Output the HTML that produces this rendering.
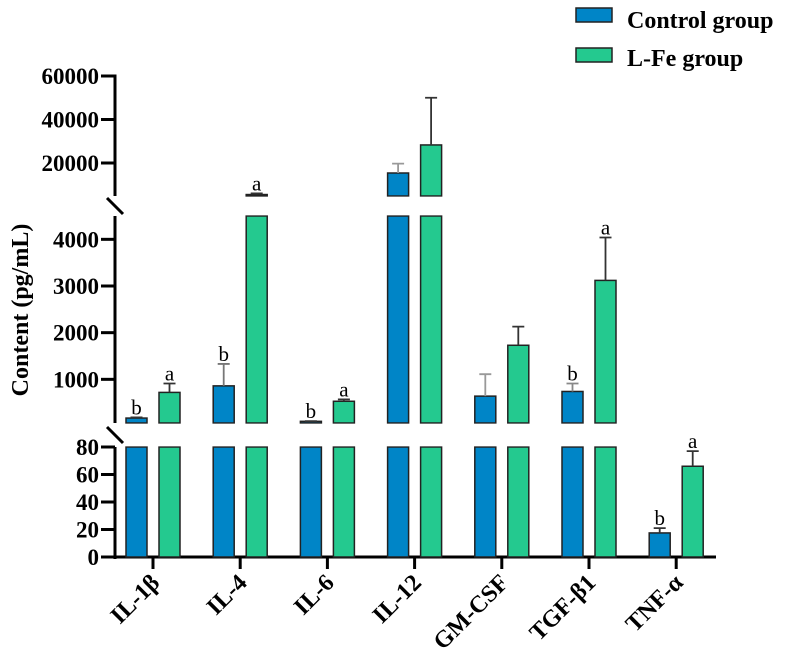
<!DOCTYPE html>
<html><head><meta charset="utf-8"><style>
body{margin:0;background:#fff}
svg text{font-family:"Liberation Serif","Times New Roman","Nimbus Roman","DejaVu Serif",serif}
</style></head><body>
<svg id="chart" width="792" height="664" viewBox="0 0 792 664" xmlns="http://www.w3.org/2000/svg">
<g id="legend">
  <rect x="576" y="8" width="36" height="14" fill="#0085c7" stroke="#222" stroke-width="1.5"/>
  <text x="627" y="28" font-size="24" font-weight="bold">Control group</text>
  <rect x="576" y="48" width="36" height="14" fill="#24c98f" stroke="#222" stroke-width="1.5"/>
  <text x="627" y="66" font-size="24" font-weight="bold">L-Fe group</text>
</g>
<text transform="translate(28,310) rotate(-90)" text-anchor="middle" font-size="24" font-weight="bold">Content (pg/mL)</text>
<g id="axes"></g>
<g id="bars"></g>
</svg>
<script>
const categories=["IL-1β","IL-4","IL-6","IL-12","GM-CSF","TGF-β1","TNF-α"];
const controlValues=[170,860,100,15400,640,740,17.5];
const controlErrors=[15,470,5,4300,470,170,3.5];
const lfeValues=[720,5500,530,28300,1730,3120,66];
const lfeErrors=[190,500,40,21700,400,920,11];
const controlLetters=["b","b","b","","","b","b"];
const lfeLetters=["a","a","a","","","a","a"];
const lowTicks=[0,20,40,60,80];
const midTicks=[1000,2000,3000,4000];
const highTicks=[20000,40000,60000];

const NS="http://www.w3.org/2000/svg";
const axes=document.getElementById('axes');
const barsG=document.getElementById('bars');
function mk(tag,attrs,parent){const e=document.createElementNS(NS,tag);for(const k in attrs)e.setAttribute(k,attrs[k]);parent.appendChild(e);return e;}
function yLow(v){return 557-(v/80)*110;}
function yMid(v){return 426-(v/4500)*210;}
function yHigh(v){return 163-(v-20000)/20000*43.5;}
const AX=115, X0=153, STEP=87.2, OFF=16.5, BW=21;
function xBand(i){return X0+i*STEP;}

let l;
l=mk('line',{x1:AX,y1:559,x2:AX,y2:447,stroke:'#000','stroke-width':3},axes);

l=mk('line',{x1:AX,y1:423,x2:AX,y2:216,stroke:'#000','stroke-width':3},axes);

l=mk('line',{x1:AX,y1:196,x2:AX,y2:74.5,stroke:'#000','stroke-width':3},axes);

[206,435].forEach(yc=>{const b=mk('line',{x1:AX-8,y1:yc-8,x2:AX+8,y2:yc+8,stroke:'#000','stroke-width':3},axes);
});
l=mk('line',{x1:AX-1.5,y1:557,x2:716,y2:557,stroke:'#000','stroke-width':3},axes);


function ytick(y,label){
 const t=mk('line',{x1:AX-14,y1:y,x2:AX,y2:y,stroke:'#000','stroke-width':3},axes);
 
 const tx=mk('text',{x:AX-16,y:y+8,'text-anchor':'end','font-size':23,'font-weight':'bold'},axes);
 tx.textContent=label;
 
}
lowTicks.forEach(v=>ytick(yLow(v),v));
midTicks.forEach(v=>ytick(yMid(v),v));
highTicks.forEach(v=>ytick(yHigh(v),v));

function yFor(v){ if(v<=80) return {seg:0,y:yLow(v)}; if(v<=4500) return {seg:1,y:Math.min(yMid(v),423)}; return {seg:2,y:Math.min(yHigh(v),196)}; }

function drawBar(v,err,color,xc,letter,name,errColor){
 const top=yFor(v);
 const pieces=[[557,447],[423,216],[196,76]];
 for(let s=0;s<=top.seg;s++){
   const yb=pieces[s][0], yt=(s===top.seg)?top.y:pieces[s][1];
   const r=mk('rect',{x:xc-BW/2,y:yt,width:BW,height:yb-yt,fill:color,stroke:'#222','stroke-width':1.5},barsG);
   
 }
 [[423,447],[196,216]].forEach(([a,b],k)=>{ if(top.seg>k){const w=mk('rect',{x:xc-BW/2-2,y:a+0.8,width:BW+4,height:b-a-1.6,fill:'#fff'},barsG);
   }});
 const ye=yFor(v+err).y;
 const e=mk('path',{d:`M${xc},${top.y}V${ye}M${xc-6},${ye}H${xc+6}`,stroke:errColor,'stroke-width':1.8,fill:'none'},barsG);
 
 if(letter){const t=mk('text',{x:xc,y:ye-3,'text-anchor':'middle','font-size':21},barsG);t.textContent=letter;
 }
}
const ctrlErrCol=["#333","#777","#333","#999","#999","#888","#333"];
categories.forEach((c,i)=>{
 const xc=xBand(i);
 drawBar(controlValues[i],controlErrors[i],'#0085c7',xc-OFF,controlLetters[i],'bar-control-'+i,ctrlErrCol[i]);
 drawBar(lfeValues[i],lfeErrors[i],'#24c98f',xc+OFF,lfeLetters[i],'bar-lfe-'+i,'#333');
 const t=mk('line',{x1:xc,y1:557,x2:xc,y2:569,stroke:'#000','stroke-width':3},axes);
 
 const tx=mk('text',{transform:`translate(${xc+8},${584}) rotate(-45)`,'text-anchor':'end','font-size':24,'font-weight':'bold'},axes);
 tx.textContent=c;
 
});
</script>
</body></html>
